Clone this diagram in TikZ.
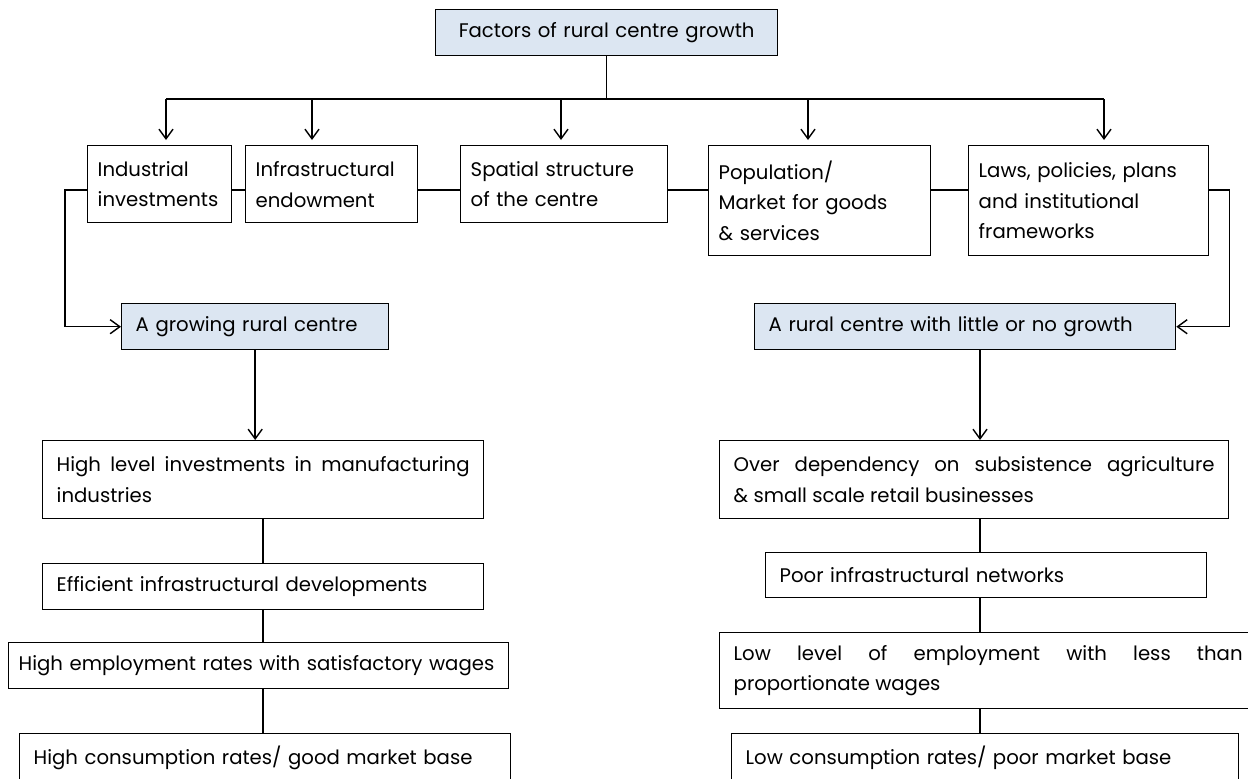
\documentclass[tikz,border=0pt]{standalone}
\usepackage{fontspec}
\setmainfont{Poppins}
\usetikzlibrary{arrows.meta}

\definecolor{headblue}{HTML}{DCE6F2}
\newcommand{\boxfont}{\fontsize{11.2}{17.5}\selectfont}
\newcommand{\linky}{190}

\tikzset{
  box/.style={draw, line width=0.8pt, inner xsep=0.28cm, inner ysep=0pt,
    anchor=north west, align=left, font=\boxfont},
  factor/.style={box, inner xsep=0.2cm},
  head/.style={box, fill=headblue},
  arr/.style={-{Straight Barb[length=5.5pt,width=8pt]}},
  conn/.style={line width=0.8pt}
}

\begin{document}
\begin{tikzpicture}[x=0.02cm, y=-0.02cm, conn]
  \useasboundingbox (0,0) rectangle (1248,778);

  % title
  \node [head, align=center, text width=6.28cm, minimum height=0.92cm] (top) at (435,9) {Factors of rural centre growth};

  % the five factors
  \node [factor, text width=2.48cm, minimum height=1.54cm] (ind) at (87,145) {Industrial\\investments};
  \node [factor, text width=3.04cm, minimum height=1.54cm] (infra) at (245,145) {Infrastructural\\endowment};
  \node [factor, text width=3.74cm, minimum height=1.54cm] (spatial) at (460,145) {Spatial structure\\of the centre};
  \node [factor, text width=4.04cm, minimum height=2.20cm] (pop) at (708,145) {Population/\\Market for goods\\\& services};
  \node [factor, text width=4.40cm, minimum height=2.20cm] (laws) at (968,145) {Laws, policies, plans\\and institutional\\frameworks};

  % two outcomes
  \node [head, text width=4.78cm, minimum height=0.92cm] (grow) at (121,303) {A growing rural centre};
  \node [head, text width=7.86cm, minimum height=0.92cm] (nogrow) at (754,303) {A rural centre with little or no growth};

  % growing centre chain
  \node [box, align=justify, text width=8.26cm, minimum height=1.56cm] (hinv) at (42,440) {High level investments in manufacturing\linebreak industries};
  \node [box, text width=8.26cm, minimum height=0.92cm] (heff) at (42,563) {Efficient infrastructural developments};
  \node [box, inner xsep=0.2cm, text width=9.6cm, minimum height=0.92cm] (hemp) at (8,642) {High employment rates with satisfactory wages};
  \node [box, text width=9.26cm, minimum height=0.96cm] (hcons) at (19,733) {High consumption rates/ good market base};

  % little or no growth chain
  \node [box, align=justify, text width=9.62cm, minimum height=1.56cm] (ldep) at (719,440) {Over dependency on subsistence agriculture\linebreak \& small scale retail businesses};
  \node [box, text width=8.26cm, minimum height=0.90cm] (lpoor) at (765,552) {Poor infrastructural networks};
  \node [box, align=justify, text width=10.18cm, minimum height=1.52cm] (lemp) at (719,632) {Low level of employment with less than\linebreak proportionate wages};
  \node [box, text width=9.58cm, minimum height=0.96cm] (lcons) at (731,733) {Low consumption rates/ poor market base};

  % distribution bus
  \coordinate (lk) at (0,\linky);
  \coordinate (lx) at (263,0);
  \coordinate (rx) at (980,0);
  \coordinate (busL) at (166,99);
  \coordinate (busR) at (1104,99);
  \draw (top.south) -- (top.south |- busL);
  \draw (busL) -- (busR);
  \foreach \n/\x in {ind/166, infra/312, spatial/561, pop/808, laws/1104}{
    \coordinate (d\n) at (\x,99);
    \draw [arr, shorten >=0.1cm] (d\n) -- (d\n |- \n.north);
  }

  % links between factors
  \draw (ind.east |- lk) -- (infra.west |- lk);
  \draw (infra.east |- lk) -- (spatial.west |- lk);
  \draw (spatial.east |- lk) -- (pop.west |- lk);
  \draw (pop.east |- lk) -- (laws.west |- lk);

  % side loops
  \draw [arr] (ind.west |- lk) -- ++(-22,0) |- (grow.west);
  \draw [arr] (laws.east |- lk) -- ++(20,0) |- (nogrow.east);

  % left chain
  \draw [arr] (grow.south) -- (grow.south |- hinv.north);
  \draw (hinv.south -| lx) -- (heff.north -| lx);
  \draw (heff.south -| lx) -- (hemp.north -| lx);
  \draw (hemp.south -| lx) -- (hcons.north -| lx);

  % right chain
  \draw [arr] (nogrow.south -| rx) -- (ldep.north -| rx);
  \draw (ldep.south -| rx) -- (lpoor.north -| rx);
  \draw (lpoor.south -| rx) -- (lemp.north -| rx);
  \draw (lemp.south -| rx) -- (lcons.north -| rx);
\end{tikzpicture}
\end{document}
